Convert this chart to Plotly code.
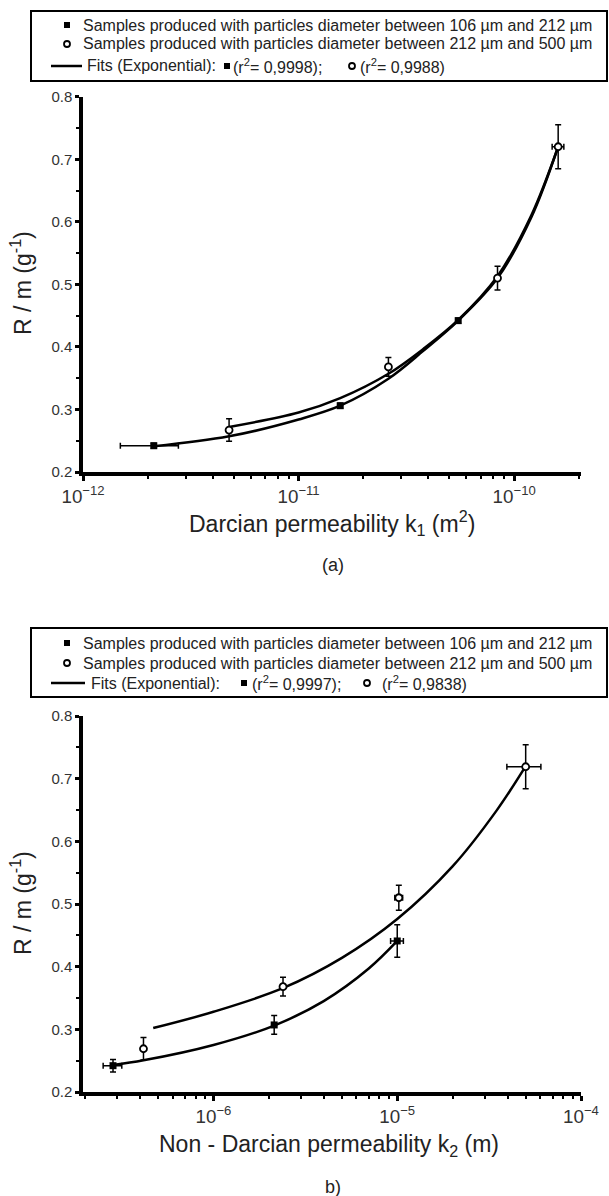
import plotly.graph_objects as go

W, H = 609, 1196

# ---------------- Panel (a) data ----------------
a_solid_k = [2.13e-12, 1.56e-11, 5.5e-11]
a_solid_r = [0.242, 0.306, 0.442]
a_solid_kerr = [0.64e-12, 0.0, 0.0]
a_solid_rerr = [0.004, 0.004, 0.004]

a_open_k = [4.76e-12, 2.61e-11, 8.37e-11, 1.6e-10]
a_open_r = [0.267, 0.368, 0.510, 0.720]
a_open_kerr = [0.0, 0.0, 0.0, 1.0e-11]
a_open_rerr = [0.018, 0.015, 0.019, 0.035]

fit_a_solid_k = [2.13e-12, 4.76e-12, 1.0e-11, 1.56e-11, 2.61e-11, 3.8e-11, 5.5e-11, 8.37e-11, 1.2e-10, 1.6e-10]
fit_a_solid_r = [0.241, 0.257, 0.284, 0.306, 0.349, 0.394, 0.442, 0.510, 0.607, 0.720]
fit_a_open_k = [4.76e-12, 1.0e-11, 1.56e-11, 2.61e-11, 3.8e-11, 5.5e-11, 8.37e-11, 1.2e-10, 1.6e-10]
fit_a_open_r = [0.272, 0.295, 0.318, 0.357, 0.397, 0.443, 0.513, 0.610, 0.720]

# ---------------- Panel (b) data ----------------
b_solid_k = [2.84e-7, 2.14e-6, 1.0e-5]
b_solid_r = [0.242, 0.307, 0.441]
b_solid_kerr = [3.3e-8, 0.0, 8e-7]
b_solid_rerr = [0.010, 0.015, 0.026]

b_open_k = [4.16e-7, 2.39e-6, 1.02e-5, 5.0e-5]
b_open_r = [0.269, 0.368, 0.510, 0.719]
b_open_kerr = [0.0, 0.0, 5e-7, 1.05e-5]
b_open_rerr = [0.018, 0.015, 0.020, 0.035]

fit_b_solid_k = [2.84e-7, 4.16e-7, 1.0e-6, 2.14e-6, 3.98e-6, 7.0e-6, 1.0e-5]
fit_b_solid_r = [0.243, 0.2505, 0.275, 0.306, 0.345, 0.397, 0.441]
fit_b_open_k = [4.7e-7, 1.0e-6, 2.4e-6, 5.0e-6, 1.0e-5, 2.0e-5, 3.47e-5, 5.0e-5]
fit_b_open_r = [0.302, 0.328, 0.366, 0.414, 0.476, 0.560, 0.649, 0.720]

y_ticks = [0.2, 0.3, 0.4, 0.5, 0.6, 0.7, 0.8]
y_ticklabels = ["0.2", "0.3", "0.4", "0.5", "0.6", "0.7", "0.8"]

legend_row1 = "Samples produced with particles diameter between 106 \u00b5m and 212 \u00b5m"
legend_row2 = "Samples produced with particles diameter between 212 \u00b5m and 500 \u00b5m"
legend_fits = "Fits (Exponential):"
a_r2 = ["(r<sup>2</sup>= 0,9998);", "(r<sup>2</sup>= 0,9988)"]
b_r2 = ["(r<sup>2</sup>= 0,9997);", "(r<sup>2</sup>= 0,9838)"]

FONT = "Liberation Sans, Arial, sans-serif"
TXT = "#222222"
LEG_SIZE = 16

fig = go.Figure()

def px_x(x):
    return x / W

def px_y(y):
    return 1 - y / H

def add_panel(xa, ya, sk, sr, skerr, srerr, ok, orr, okerr, orerr, fsk, fsr, fok, forr):
    fig.add_trace(go.Scatter(x=fsk, y=fsr, mode="lines", line=dict(color="black", width=2.5, shape="spline"),
                             xaxis=xa, yaxis=ya, showlegend=False, hoverinfo="skip"))
    fig.add_trace(go.Scatter(x=fok, y=forr, mode="lines", line=dict(color="black", width=2.5, shape="spline"),
                             xaxis=xa, yaxis=ya, showlegend=False, hoverinfo="skip"))
    fig.add_trace(go.Scatter(x=sk, y=sr, mode="markers",
                             marker=dict(symbol="square", size=7, color="black"),
                             error_x=dict(type="data", array=skerr, color="black", thickness=1.5, width=3),
                             error_y=dict(type="data", array=srerr, color="black", thickness=1.5, width=3),
                             xaxis=xa, yaxis=ya, showlegend=False))
    fig.add_trace(go.Scatter(x=ok, y=orr, mode="markers",
                             marker=dict(symbol="circle", size=7, color="white", line=dict(color="black", width=1.8)),
                             error_x=dict(type="data", array=okerr, color="black", thickness=1.5, width=3),
                             error_y=dict(type="data", array=orerr, color="black", thickness=1.5, width=3),
                             xaxis=xa, yaxis=ya, showlegend=False))

add_panel("x", "y", a_solid_k, a_solid_r, a_solid_kerr, a_solid_rerr,
          a_open_k, a_open_r, a_open_kerr, a_open_rerr,
          fit_a_solid_k, fit_a_solid_r, fit_a_open_k, fit_a_open_r)
add_panel("x2", "y2", b_solid_k, b_solid_r, b_solid_kerr, b_solid_rerr,
          b_open_k, b_open_r, b_open_kerr, b_open_rerr,
          fit_b_solid_k, fit_b_solid_r, fit_b_open_k, fit_b_open_r)

xdom = [px_x(83), px_x(581)]
common_x = dict(type="log", showgrid=False, zeroline=False, showline=True, linecolor="black", linewidth=3.5,
                ticks="outside", ticklen=5, tickwidth=2.5, tickcolor="black", dtick=1,
                exponentformat="power", tickfont=dict(family=FONT, size=15, color="#333333"),
                minor=dict(ticks="outside", ticklen=3, tickwidth=2, tickcolor="black", showgrid=False),
                mirror=False, fixedrange=True, automargin=False)
common_y = dict(range=[0.2, 0.8], showgrid=False, zeroline=False, showline=True, linecolor="black", linewidth=3.5,
                ticks="outside", ticklen=4, tickwidth=2.5, tickcolor="black",
                tickvals=y_ticks, ticktext=y_ticklabels,
                tickfont=dict(family=FONT, size=15, color="#333333"),
                minor=dict(ticks="outside", ticklen=3, tickwidth=2, tickcolor="black", dtick=0.05, showgrid=False),
                mirror=False, fixedrange=True, automargin=False)

fig.update_layout(
    width=W, height=H, margin=dict(l=0, r=0, t=0, b=0, pad=0, autoexpand=False),
    paper_bgcolor="white", plot_bgcolor="white", showlegend=False,
    xaxis=dict(common_x, domain=xdom, range=[-12, -9.69], anchor="y"),
    yaxis=dict(common_y, domain=[px_y(472), px_y(96.7)], anchor="x"),
    xaxis2=dict(common_x, domain=xdom, range=[-6.71, -4.0], anchor="y2"),
    yaxis2=dict(common_y, domain=[px_y(1092), px_y(716)], anchor="x2"),
)

shapes = []
annotations = []

def add_legend(top, bottom, rows_y, r2, pos):
    shapes.append(dict(type="rect", xref="paper", yref="paper",
                       x0=px_x(31), x1=px_x(607), y0=px_y(bottom), y1=px_y(top),
                       line=dict(color="black", width=2), fillcolor="rgba(0,0,0,0)"))
    y1, y2, y3 = rows_y
    shapes.append(dict(type="rect", xref="paper", yref="paper",
                       x0=px_x(64), x1=px_x(70), y0=px_y(y1 + 3), y1=px_y(y1 - 3),
                       line=dict(color="black", width=0), fillcolor="black"))
    shapes.append(dict(type="circle", xref="paper", yref="paper",
                       x0=px_x(64), x1=px_x(70), y0=px_y(y2 + 3), y1=px_y(y2 - 3),
                       line=dict(color="black", width=1.8), fillcolor="white"))
    shapes.append(dict(type="line", xref="paper", yref="paper",
                       x0=px_x(51), x1=px_x(pos["line_end"]), y0=px_y(y3), y1=px_y(y3),
                       line=dict(color="black", width=2.5)))
    for txt, yy in [(legend_row1, y1), (legend_row2, y2)]:
        annotations.append(dict(text=txt, xref="paper", yref="paper", x=px_x(81), y=px_y(yy),
                                xanchor="left", yanchor="middle", showarrow=False,
                                font=dict(family=FONT, size=LEG_SIZE, color=TXT)))
    annotations.append(dict(text=legend_fits, xref="paper", yref="paper", x=px_x(pos["fits"]), y=px_y(y3),
                            xanchor="left", yanchor="middle", showarrow=False,
                            font=dict(family=FONT, size=LEG_SIZE, color=TXT)))
    sx = pos["sq"]
    shapes.append(dict(type="rect", xref="paper", yref="paper",
                       x0=px_x(sx - 3), x1=px_x(sx + 3), y0=px_y(y3 + 3), y1=px_y(y3 - 3),
                       line=dict(color="black", width=0), fillcolor="black"))
    cx = pos["ci"]
    shapes.append(dict(type="circle", xref="paper", yref="paper",
                       x0=px_x(cx - 3), x1=px_x(cx + 3), y0=px_y(y3 + 3), y1=px_y(y3 - 3),
                       line=dict(color="black", width=1.8), fillcolor="white"))
    annotations.append(dict(text=r2[0], xref="paper", yref="paper", x=px_x(pos["t1"]), y=px_y(y3),
                            xanchor="left", yanchor="middle", showarrow=False,
                            font=dict(family=FONT, size=LEG_SIZE, color=TXT)))
    annotations.append(dict(text=r2[1], xref="paper", yref="paper", x=px_x(pos["t2"]), y=px_y(y3),
                            xanchor="left", yanchor="middle", showarrow=False,
                            font=dict(family=FONT, size=LEG_SIZE, color=TXT)))

add_legend(11, 81, (25, 44, 66), a_r2, dict(line_end=82, fits=85, sq=227, t1=231, ci=352, t2=358))
add_legend(628, 697, (643, 663, 683), b_r2, dict(line_end=85, fits=89, sq=244, t1=250, ci=367, t2=380))

def add_text(txt, x, y, size, angle=0):
    annotations.append(dict(text=txt, xref="paper", yref="paper", x=px_x(x), y=px_y(y),
                            xanchor="center", yanchor="middle", showarrow=False, textangle=angle,
                            font=dict(family=FONT, size=size, color=TXT)))

add_text("R / m (g<sup>-1</sup>)", 21, 283, 23, -90)
add_text("R / m (g<sup>-1</sup>)", 21, 903, 23, -90)
add_text("Darcian permeability k<sub>1</sub> (m<sup>2</sup>)", 332, 523, 23)
add_text("Non - Darcian permeability k<sub>2</sub> (m)", 329, 1145, 23)
add_text("(a)", 333, 565, 18)
add_text("b)", 333, 1187, 18)

fig.update_layout(shapes=shapes, annotations=annotations)
fig.write_html("out.html")
